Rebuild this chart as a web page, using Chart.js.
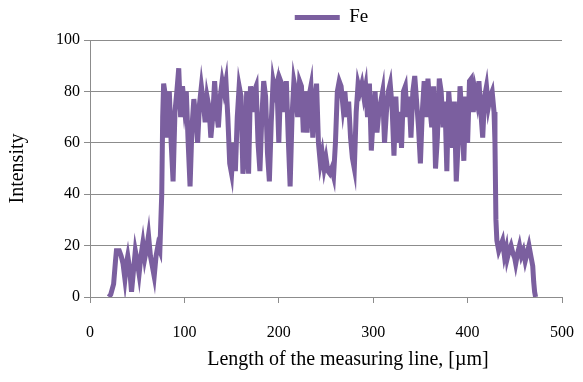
<!DOCTYPE html>
<html>
<head>
<meta charset="utf-8">
<script src="https://cdn.jsdelivr.net/npm/chart.js@4.4.0/dist/chart.umd.min.js"></script>
<style>
html, body { margin: 0; padding: 0; background: #fff; }
#wrap { width: 583px; height: 382px; }
</style>
</head>
<body>
<div id="wrap"><canvas id="chart"></canvas></div>
<script>
// Fe line scan
const lengthUm = [
  20, 22, 25, 27, 28, 31, 33, 35, 37, 39, 40, 42, 44, 46, 48, 50, 52, 54, 56, 58,
  60, 62, 64, 66, 68, 70, 72, 74, 76, 77, 78, 80, 82, 84, 86, 88, 90, 92, 94, 96,
  98, 100, 102, 104, 106, 108, 110, 112, 114, 116, 118, 120, 122, 124, 126, 128, 130, 132, 134, 136,
  138, 140, 142, 144, 146, 148, 150, 152, 154, 156, 158, 160, 162, 164, 166, 168, 170, 172, 174, 176,
  178, 180, 182, 184, 186, 188, 190, 192, 194, 196, 198, 200, 202, 204, 206, 208, 210, 212, 214, 216,
  218, 220, 222, 224, 226, 228, 230, 232, 234, 236, 238, 240, 242, 244, 246, 248, 250, 252, 254, 256,
  258, 260, 262, 264, 266, 268, 270, 272, 274, 276, 278, 280, 282, 284, 286, 288, 290, 292, 294, 296,
  298, 300, 302, 304, 306, 308, 310, 312, 314, 316, 318, 320, 322, 324, 326, 328, 330, 332, 334, 336,
  338, 340, 342, 344, 346, 348, 350, 352, 354, 356, 358, 360, 362, 364, 366, 368, 370, 372, 374, 376,
  378, 380, 382, 384, 386, 388, 390, 392, 394, 396, 398, 400, 402, 404, 406, 408, 410, 412, 414, 416,
  418, 420, 422, 424, 426, 428, 429, 430, 431, 433, 435, 437, 439, 441, 442, 444, 446, 448, 450, 451,
  453, 455, 457, 459, 461, 463, 465, 467, 469, 470, 471, 472
];
const feIntensity = [
  0, 1, 5, 14, 18, 18, 16, 13, 7, 14, 16, 11, 2, 10, 18, 14, 9, 16, 21, 15,
  19, 24, 16, 12, 8, 16, 20, 18, 40, 70, 83, 78, 62, 80, 60, 45, 72, 80, 89, 70,
  82, 74, 80, 60, 43, 66, 77, 70, 60, 75, 82, 76, 68, 78, 74, 62, 70, 84, 72, 66,
  78, 84, 80, 84, 70, 52, 48, 60, 49, 70, 82, 78, 48, 55, 80, 48, 82, 72, 80, 82,
  60, 49, 70, 84, 78, 56, 45, 68, 84, 80, 83, 60, 84, 82, 72, 84, 62, 43, 70, 84,
  80, 70, 84, 82, 64, 80, 64, 78, 82, 62, 76, 83, 60, 52, 56, 50, 54, 49, 48, 50,
  47, 60, 80, 84, 82, 74, 80, 70, 76, 62, 54, 50, 72, 83, 80, 83, 78, 82, 70, 83,
  57, 70, 80, 64, 72, 76, 80, 60, 72, 80, 83, 74, 55, 78, 60, 72, 58, 80, 82, 70,
  78, 62, 80, 86, 76, 66, 52, 72, 84, 70, 85, 74, 66, 82, 50, 62, 85, 80, 66, 76,
  49, 80, 70, 58, 76, 45, 60, 82, 70, 53, 78, 60, 84, 85, 72, 80, 76, 84, 72, 62,
  78, 82, 74, 78, 80, 72, 60, 30, 22, 18, 20, 22, 16, 19, 15, 18, 20, 17, 15, 13,
  17, 20, 16, 18, 14, 17, 20, 16, 12, 6, 2, 0
];
const seriesName = 'Fe';
const xTickValues = [0, 100, 200, 300, 400, 500];
const yTickValues = [0, 20, 40, 60, 80, 100];

const purple = '#7b5f9f';
const gridGray = '#8c8c8c';
const serifFamily = "'Liberation Serif', 'DejaVu Serif', serif";
const tickFont = { family: serifFamily, size: 16 };
const titleFont = { family: serifFamily, size: 20 };
const legendFont = { family: serifFamily, size: 19 };

const points = lengthUm.map((x, i) => ({ x: x, y: feIntensity[i] }));

// nudge legend and x title to where the original has them
const nudge = {
  id: 'nudge',
  afterLayout(chart) {
    const lg = chart.legend;
    lg.left += 40; lg.right += 40;
    lg.top -= 3; lg.bottom -= 3;
    const xs = chart.scales.x;
    if (!xs._nudged) {
      const orig = xs.drawTitle;
      xs.drawTitle = function () {
        this.ctx.save();
        this.ctx.translate(22, 0);
        orig.call(this);
        this.ctx.restore();
      };
      xs._nudged = true;
    }
  }
};

new Chart(document.getElementById('chart'), {
  type: 'line',
  data: {
    datasets: [{
      label: seriesName,
      data: points,
      borderColor: purple,
      backgroundColor: purple,
      borderWidth: 5,
      pointRadius: 0,
      tension: 0,
      fill: false
    }]
  },
  options: {
    responsive: true,
    maintainAspectRatio: false,
    animation: false,
    layout: { padding: { top: 5, right: 0, bottom: 0, left: 0 } },
    plugins: {
      legend: {
        position: 'top',
        labels: {
          font: legendFont,
          color: '#000',
          usePointStyle: true,
          pointStyle: 'line',
          pointStyleWidth: 45,
          padding: 6
        }
      },
      tooltip: { enabled: false }
    },
    scales: {
      x: {
        type: 'linear',
        min: 0,
        max: 500,
        afterBuildTicks: s => { s.ticks = xTickValues.map(v => ({ value: v })); },
        afterFit: s => { s.height = 85; s.paddingLeft = 0; s.paddingRight = 21; },
        ticks: { font: tickFont, color: '#000', padding: 20, maxRotation: 0 },
        grid: { drawOnChartArea: false, color: gridGray, tickLength: 6 },
        border: { color: gridGray },
        title: { display: true, text: 'Length of the measuring line, [µm]', font: titleFont, color: '#000', padding: { top: 4, bottom: 10 } }
      },
      y: {
        min: 0,
        max: 100,
        afterBuildTicks: s => { s.ticks = yTickValues.map(v => ({ value: v })); },
        afterFit: s => { s.width = 90; },
        ticks: { font: tickFont, color: '#000', padding: 4 },
        grid: { color: gridGray, tickLength: 6 },
        border: { color: gridGray },
        title: { display: true, text: 'Intensity', font: titleFont, color: '#000', padding: { top: 6, bottom: 4 } }
      }
    }
  },
  plugins: [nudge]
});
</script>
</body>
</html>
